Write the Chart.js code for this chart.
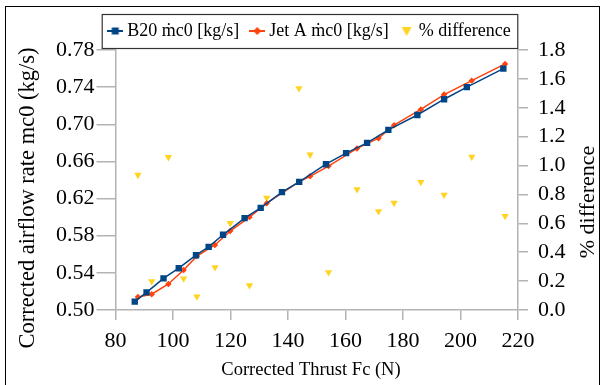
<!DOCTYPE html>
<html>
<head>
<meta charset="utf-8">
<script src="https://cdn.jsdelivr.net/npm/chart.js@4"></script>
<style>
  body { margin: 0; background: #fff; }
  #wrap { position: relative; width: 604px; height: 385px; overflow: hidden; }
  #frame { position: absolute; left: 5px; top: 6px; width: 595px; height: 420px; border: 1px solid #000; box-sizing: border-box; }
  #chart { position: absolute; left: 0; top: 0; }
</style>
</head>
<body>
<div id="wrap">
  <div id="frame"></div>
  <canvas id="chart" width="604" height="385"></canvas>
</div>
<script>
// B20 - corrected thrust (N) and corrected airflow (kg/s)
const b20Thrust = [86.7, 90.8, 96.7, 102.0, 108.0, 112.4, 117.4, 124.9, 130.5, 137.9,
                   143.9, 153.2, 160.2, 167.5, 174.9, 185.0, 194.3, 202.2, 214.9];
const b20Flow = [0.509, 0.519, 0.534, 0.545, 0.559, 0.568, 0.581, 0.599, 0.610, 0.627,
                 0.638, 0.657, 0.669, 0.680, 0.694, 0.710, 0.727, 0.740, 0.760];

// Jet A
const jetThrust = [87.8, 92.6, 98.4, 103.7, 108.3, 114.6, 119.9, 126.6, 132.6, 143.8,
                   147.7, 154.1, 164.0, 171.5, 176.9, 186.2, 194.3, 203.9, 215.5];
const jetFlow = [0.514, 0.517, 0.528, 0.543, 0.558, 0.570, 0.585, 0.600, 0.615, 0.638,
                 0.644, 0.655, 0.674, 0.685, 0.699, 0.716, 0.732, 0.747, 0.765];

// % difference, plotted at the Jet A thrust
const pctDiff = [0.935, 0.198, 1.058, 0.217, 0.093, 0.296, 0.601, 0.170, 0.776, 1.534,
                 1.075, 0.261, 0.835, 0.683, 0.741, 0.886, 0.797, 1.061, 0.650];

const seriesNames = ["B20 \u1E41c0 [kg/s]", "Jet A \u1E41c0 [kg/s]", "% difference"];
const xTitle = "Corrected Thrust Fc (N)";
const yTitle = "Corrected airflow rate mc0 (kg/s)";
const y2Title = "% difference";

const blue = "#004586", red = "#ff420e", yellow = "#ffd320";
const axisGrey = "#b3b3b3";
const serif = "'Liberation Serif', 'Times New Roman', serif";

function pairs(xs, ys) {
    return xs.map((x, i) => ({x: x, y: ys[i]}));
}

// kleine Symbole fuer die Legende
function legendIcon(color, shape) {
    const c = document.createElement("canvas");
    c.width = 16; c.height = 12;
    const g = c.getContext("2d");
    g.fillStyle = color;
    g.strokeStyle = color;
    if (shape !== "tri") {
        g.lineWidth = 2;
        g.beginPath(); g.moveTo(0, 6); g.lineTo(16, 6); g.stroke();
    }
    g.beginPath();
    if (shape === "square") g.rect(4.5, 2.5, 7, 7);
    if (shape === "diamond") { g.moveTo(8, 2); g.lineTo(12, 6); g.lineTo(8, 10); g.lineTo(4, 6); g.closePath(); }
    if (shape === "tri") { g.moveTo(3, 2); g.lineTo(13, 2); g.lineTo(8, 11); g.closePath(); }
    g.fill();
    return c;
}
const icons = [legendIcon(blue, "square"), legendIcon(red, "diamond"), legendIcon(yellow, "tri")];

// Rahmen um die Legende
const legendBox = {
    id: "legendBox",
    afterDraw(chart) {
        const boxes = chart.legend.legendHitBoxes;
        if (!boxes || !boxes.length) return;
        const first = boxes[0], last = boxes[boxes.length - 1];
        const cy = first.top + first.height / 2;
        const ctx = chart.ctx;
        ctx.save();
        ctx.strokeStyle = "#333";
        ctx.lineWidth = 1.2;
        ctx.strokeRect(first.left - 10, cy - 16.5, last.left + last.width - first.left + 17, 34);
        ctx.restore();
    }
};

// Achsentitel an festen Stellen
const axisTitles = {
    id: "axisTitles",
    afterDraw(chart) {
        const ctx = chart.ctx;
        ctx.save();
        ctx.fillStyle = "#000";
        ctx.textAlign = "center";
        ctx.textBaseline = "middle";
        ctx.font = "18.5px " + serif;
        ctx.fillText(xTitle, 311, 370);
        ctx.font = "22.5px " + serif;
        ctx.translate(28, 198);
        ctx.rotate(-Math.PI / 2);
        ctx.fillText(yTitle, 0, 0);
        ctx.restore();
        ctx.save();
        ctx.fillStyle = "#000";
        ctx.textAlign = "center";
        ctx.textBaseline = "middle";
        ctx.font = "22px " + serif;
        ctx.translate(588, 202);
        ctx.rotate(-Math.PI / 2);
        ctx.fillText(y2Title, 0, 0);
        ctx.restore();
    }
};

Chart.defaults.font.family = serif;
Chart.defaults.color = "#000";

const tickGrid = (len) => ({
    display: true,
    drawOnChartArea: false,
    drawTicks: true,
    tickLength: len,
    color: axisGrey,
    lineWidth: 1.5
});

new Chart(document.getElementById("chart"), {
    type: "scatter",
    data: {
        datasets: [{
            label: seriesNames[0],
            data: pairs(b20Thrust, b20Flow),
            showLine: true,
            borderColor: blue,
            backgroundColor: blue,
            borderWidth: 1.5,
            pointStyle: "rect",
            pointRadius: 4.5,
            pointBorderWidth: 0,
            yAxisID: "y"
        }, {
            label: seriesNames[1],
            data: pairs(jetThrust, jetFlow),
            showLine: true,
            borderColor: red,
            backgroundColor: red,
            borderWidth: 1.5,
            pointStyle: "rectRot",
            pointRadius: 3.2,
            pointBorderWidth: 0,
            yAxisID: "y"
        }, {
            label: seriesNames[2],
            data: pairs(jetThrust, pctDiff),
            showLine: false,
            borderColor: yellow,
            backgroundColor: yellow,
            pointStyle: "triangle",
            rotation: 180,
            pointRadius: 4.2,
            pointBorderWidth: 0,
            yAxisID: "y2"
        }]
    },
    options: {
        responsive: false,
        animation: false,
        layout: {padding: {left: 19, right: 0, top: 7, bottom: 0}},
        plugins: {
            tooltip: {enabled: false},
            legend: {
                position: "top",
                labels: {
                    usePointStyle: true,
                    pointStyleWidth: 6,
                    padding: 15,
                    font: {size: 18, family: serif},
                    color: "#000",
                    generateLabels(chart) {
                        const items = Chart.defaults.plugins.legend.labels.generateLabels(chart);
                        items.forEach((it, i) => { it.pointStyle = icons[i]; it.rotation = 0; });
                        return items;
                    }
                }
            }
        },
        scales: {
            x: {
                type: "linear",
                min: 80, max: 220,
                afterFit(scale) { scale.height = 75; },
                border: {display: true, color: axisGrey, width: 1.5},
                grid: tickGrid(10),
                ticks: {stepSize: 20, padding: 8, autoSkip: false, font: {size: 22}, color: "#000"}
            },
            y: {
                position: "left",
                min: 0.5, max: 0.78,
                afterFit(scale) { scale.width = 96.5; },
                border: {display: true, color: axisGrey, width: 1.5},
                grid: tickGrid(19),
                ticks: {
                    stepSize: 0.04, padding: 2, autoSkip: false, font: {size: 22}, color: "#000",
                    callback: (v) => v.toFixed(2)
                }
            },
            y2: {
                position: "right",
                min: 0, max: 1.8,
                afterFit(scale) { scale.width = 86; },
                border: {display: true, color: axisGrey, width: 1.5},
                grid: tickGrid(10),
                ticks: {
                    stepSize: 0.2, padding: 10, autoSkip: false, font: {size: 22}, color: "#000",
                    callback: (v) => v.toFixed(1)
                }
            }
        }
    },
    plugins: [legendBox, axisTitles]
});
</script>
</body>
</html>
